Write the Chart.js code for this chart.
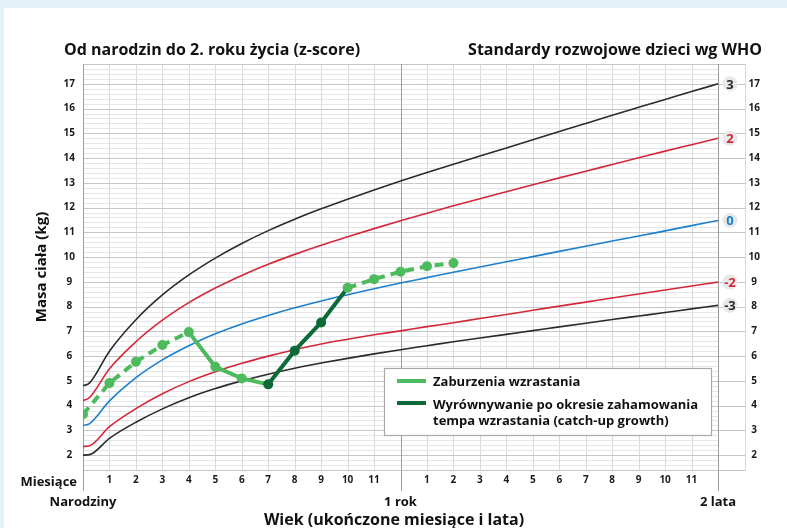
<!DOCTYPE html>
<html lang="pl">
<head>
<meta charset="UTF-8">
<title>Masa ciała – standardy WHO</title>
<script src="https://cdn.jsdelivr.net/npm/chart.js"></script>
<style>
  html, body { margin: 0; padding: 0; background: #e2f2f7; }
  body { width: 787px; height: 528px; overflow: hidden; position: relative; }
  .karta { position: absolute; left: 4px; top: 8px; width: 783px; height: 520px; background: #fff; }
  canvas { position: absolute; left: 0; top: 0; }
</style>
</head>
<body>
<div class="karta"></div>
<canvas id="wykres" width="787" height="528"></canvas>

<script>
// siatki centylowe WHO (dziewczynki), masa ciała w kg
const miesiace = [0, 0.25, 1, 2, 3, 4, 5, 6, 7, 8, 9, 10, 11, 12, 13, 14, 15, 16, 17, 18, 19, 20, 21, 22, 23, 24];
const zMinus3 = [2.00, 2.02, 2.68, 3.33, 3.87, 4.32, 4.69, 5.00, 5.27, 5.51, 5.72, 5.91, 6.09, 6.26, 6.42, 6.58, 6.73, 6.88, 7.03, 7.18, 7.33, 7.48, 7.62, 7.76, 7.91, 8.05];
const zMinus2 = [2.35, 2.38, 3.15, 3.88, 4.48, 4.97, 5.37, 5.71, 6.00, 6.26, 6.49, 6.68, 6.86, 7.02, 7.19, 7.35, 7.52, 7.68, 7.85, 8.02, 8.18, 8.35, 8.51, 8.67, 8.83, 8.99];
const zZero = [3.20, 3.27, 4.19, 5.13, 5.85, 6.42, 6.90, 7.30, 7.64, 7.95, 8.23, 8.48, 8.72, 8.95, 9.17, 9.39, 9.60, 9.81, 10.02, 10.23, 10.44, 10.65, 10.85, 11.06, 11.27, 11.48];
const zPlus2 = [4.20, 4.33, 5.49, 6.58, 7.45, 8.16, 8.75, 9.26, 9.71, 10.11, 10.48, 10.82, 11.15, 11.47, 11.77, 12.07, 12.36, 12.64, 12.92, 13.20, 13.47, 13.74, 14.01, 14.28, 14.54, 14.80];
const zPlus3 = [4.80, 4.92, 6.20, 7.47, 8.47, 9.28, 9.96, 10.55, 11.07, 11.53, 11.95, 12.34, 12.71, 13.07, 13.42, 13.75, 14.08, 14.41, 14.74, 15.07, 15.40, 15.73, 16.05, 16.37, 16.69, 17.00];

// pomiary dziecka
const miesiaceDziecka = [0, 1, 2, 3, 4, 5, 6, 7, 8, 9, 10, 11, 12, 13, 14];
const masaDziecka = [3.65, 4.91, 5.77, 6.45, 6.97, 5.57, 5.10, 4.86, 6.22, 7.36, 8.76, 9.11, 9.41, 9.63, 9.76];
const startZaburzen = 4;    // od tego pomiaru linia ciągła
const startWyrownania = 7;  // catch-up growth
const koniecWyrownania = 10;

const etykietyZ = ['3', '2', '0', '-2', '-3'];
const tytulLewy = 'Od narodzin do 2. roku życia (z-score)';
const tytulPrawy = 'Standardy rozwojowe dzieci wg WHO';

const CZARNY = '#2b2b2b';
const CZERWONY = '#d3283a';
const NIEBIESKI = '#1c80cc';
const JASNOZIELONY = '#4dba5e';
const CIEMNOZIELONY = '#0b6a37';
const FONT = '"Open Sans", "Noto Sans", sans-serif';

function punkty(xs, ys) {
    return xs.map((m, i) => ({ x: m, y: ys[i] }));
}

function krzywa(dane, kolor) {
    return {
        data: punkty(miesiace, dane),
        borderColor: kolor,
        borderWidth: 1.6,
        pointRadius: 0,
        cubicInterpolationMode: 'monotone'
    };
}

function kolorOdcinka(i) {
    return (i >= startWyrownania && i < koniecWyrownania) ? CIEMNOZIELONY : JASNOZIELONY;
}

function przerywany(i) {
    return i < startZaburzen || i >= koniecWyrownania;
}

function calkowita(v) {
    return Math.abs(v - Math.round(v)) < 1e-6;
}

// siatka rysowana ręcznie: drobne linie co 0,2 kg tylko do 24. miesiąca
const siatka = {
    id: 'siatka',
    beforeDatasetsDraw(chart) {
        const { ctx, chartArea: a, scales: { x, y } } = chart;
        const px = v => Math.round(x.getPixelForValue(v)) + 0.5;
        const py = v => Math.round(y.getPixelForValue(v)) + 0.5;
        ctx.save();
        ctx.lineWidth = 1;

        ctx.strokeStyle = '#e6e6e6';
        for (let k = 14; k <= 178; k += 2) {
            if (k % 10 === 0) continue;
            ctx.beginPath();
            ctx.moveTo(px(0), py(k / 10));
            ctx.lineTo(px(24), py(k / 10));
            ctx.stroke();
        }

        ctx.strokeStyle = '#dadada';
        for (let m = 1; m <= 25; m++) {
            if (m === 12 || m === 24) continue;
            ctx.beginPath();
            ctx.moveTo(px(m), a.top);
            ctx.lineTo(px(m), a.bottom);
            ctx.stroke();
        }

        ctx.strokeStyle = '#c6c6c6';
        for (let k = 2; k <= 17; k++) {
            ctx.beginPath();
            ctx.moveTo(px(0), py(k));
            ctx.lineTo(px(25), py(k));
            ctx.stroke();
        }
        [1.4, 17.8].forEach(v => {
            ctx.beginPath();
            ctx.moveTo(px(0), py(v));
            ctx.lineTo(px(25), py(v));
            ctx.stroke();
        });

        ctx.strokeStyle = '#9c9c9c';
        [0, 12, 24].forEach(m => {
            ctx.beginPath();
            ctx.moveTo(px(m), a.top);
            ctx.lineTo(px(m), a.bottom + 21);
            ctx.stroke();
        });
        ctx.restore();
    }
};

const opisy = {
    id: 'opisy',
    afterDraw(chart) {
        const { ctx, scales: { x, y } } = chart;
        ctx.save();
        ctx.fillStyle = '#111';
        ctx.textBaseline = 'alphabetic';

        ctx.font = 'bold 16px ' + FONT;
        ctx.textAlign = 'left';
        ctx.fillText(tytulLewy, 64, 55);
        ctx.textAlign = 'right';
        ctx.fillText(tytulPrawy, 762, 55);

        ctx.font = 'bold 13px ' + FONT;
        ctx.textAlign = 'right';
        ctx.fillText('Miesiące', 77, 486);
        ctx.textAlign = 'center';
        ctx.fillText('Narodziny', x.getPixelForValue(0), 506);
        ctx.fillText('1 rok', x.getPixelForValue(12), 506);
        ctx.fillText('2 lata', x.getPixelForValue(24), 506);

        ctx.font = 'bold 16px ' + FONT;
        ctx.fillText('Wiek (ukończone miesiące i lata)', 394, 525);

        // etykiety z-score przy końcach krzywych
        const konce = [zPlus3, zPlus2, zZero, zMinus2, zMinus3].map(d => d[d.length - 1]);
        const kolory = [CZARNY, CZERWONY, NIEBIESKI, CZERWONY, CZARNY];
        ctx.font = 'bold 13px ' + FONT;
        ctx.textBaseline = 'middle';
        konce.forEach((v, i) => {
            const cx = x.getPixelForValue(24.45);
            const cy = y.getPixelForValue(v);
            ctx.fillStyle = '#e8e8e8';
            ctx.beginPath();
            ctx.arc(cx, cy, 7.5, 0, Math.PI * 2);
            ctx.fill();
            ctx.fillStyle = kolory[i];
            ctx.fillText(etykietyZ[i], cx, cy + 1);
        });

        // legenda
        ctx.fillStyle = '#fff';
        ctx.fillRect(384, 368, 327, 68);
        ctx.strokeStyle = '#a9a9a9';
        ctx.lineWidth = 1.2;
        ctx.strokeRect(384.5, 368.5, 327, 67);

        ctx.lineWidth = 4;
        ctx.strokeStyle = JASNOZIELONY;
        ctx.beginPath(); ctx.moveTo(397, 381); ctx.lineTo(426, 381); ctx.stroke();
        ctx.strokeStyle = CIEMNOZIELONY;
        ctx.beginPath(); ctx.moveTo(397, 403); ctx.lineTo(426, 403); ctx.stroke();

        ctx.fillStyle = '#111';
        ctx.font = 'bold 13px ' + FONT;
        ctx.textAlign = 'left';
        ctx.textBaseline = 'alphabetic';
        ctx.fillText('Zaburzenia wzrastania', 433, 386);
        ctx.fillText('Wyrównywanie po okresie zahamowania', 433, 409);
        ctx.fillText('tempa wzrastania (catch-up growth)', 433, 425);
        ctx.restore();
    }
};

const osY = (strona, padding, szerokosc) => ({
    position: strona,
    min: 1.4,
    max: 17.8,
    grid: { display: false, drawTicks: false },
    border: { display: false },
    ticks: {
        stepSize: 1,
        padding: padding,
        crossAlign: 'center',
        color: '#1a1a1a',
        font: { family: FONT, size: 10, weight: 'bold' },
        callback: v => calkowita(v) ? Math.round(v) : ''
    },
    afterFit: s => { s.width = szerokosc; }
});

const skalaLewa = osY('left', 8, 83);
skalaLewa.title = {
    display: true,
    text: 'Masa ciała (kg)',
    color: '#111',
    font: { family: FONT, size: 15, weight: 'bold' },
    padding: { top: 33, bottom: 0 }
};

new Chart(document.getElementById('wykres'), {
    type: 'line',
    data: {
        datasets: [
            {
                data: punkty(miesiaceDziecka, masaDziecka),
                borderColor: JASNOZIELONY,
                borderWidth: 4,
                tension: 0,
                pointRadius: 5,
                pointBorderWidth: 0,
                pointBackgroundColor: ctx => kolorOdcinka(ctx.dataIndex === koniecWyrownania ? 0 : ctx.dataIndex),
                segment: {
                    borderColor: ctx => kolorOdcinka(ctx.p0DataIndex),
                    borderDash: ctx => przerywany(ctx.p0DataIndex) ? [9, 6] : undefined
                }
            },
            krzywa(zPlus3, CZARNY),
            krzywa(zPlus2, CZERWONY),
            krzywa(zZero, NIEBIESKI),
            krzywa(zMinus2, CZERWONY),
            krzywa(zMinus3, CZARNY)
        ]
    },
    options: {
        responsive: false,
        animation: false,
        layout: { padding: { top: 64 } },
        plugins: {
            legend: { display: false },
            tooltip: { enabled: false }
        },
        scales: {
            x: {
                type: 'linear',
                min: 0,
                max: 25,
                grid: { display: false, drawTicks: false },
                border: { display: false },
                ticks: {
                    stepSize: 1,
                    autoSkip: false,
                    maxRotation: 0,
                    padding: 4,
                    color: '#1a1a1a',
                    font: { family: FONT, size: 10, weight: 'bold' },
                    callback: v => (v % 12 === 0 || v > 24) ? '' : v % 12
                },
                afterFit: s => { s.height = 58; }
            },
            y: skalaLewa,
            y2: osY('right', 4, 42.5)
        }
    },
    plugins: [siatka, opisy]
});
</script>
</body>
</html>
